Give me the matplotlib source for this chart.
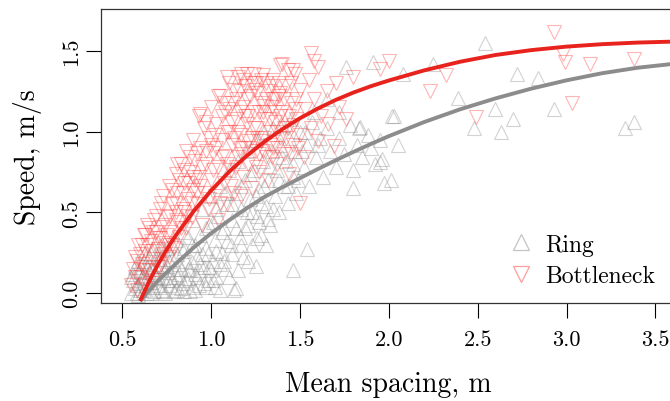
import matplotlib
matplotlib.use("Agg")
import matplotlib.pyplot as plt
from matplotlib.lines import Line2D

# Data
ring_spacing = [
    0.55, 0.56, 0.57, 0.58, 0.59, 0.60, 0.61, 0.62, 0.63, 0.64,
    0.65, 0.66, 0.67, 0.68, 0.69, 0.70, 0.71, 0.72, 0.73, 0.74,
    0.75, 0.76, 0.77, 0.78, 0.79, 0.80, 0.81, 0.82, 0.83, 0.84,
    0.85, 0.86, 0.87, 0.88, 0.89, 0.90, 0.91, 0.92, 0.93, 0.94,
    0.95, 0.96, 0.97, 0.98, 0.99, 1.00, 1.01, 1.02, 1.03, 1.04,
    1.05, 1.06, 1.07, 1.08, 1.09, 1.10, 1.11, 1.12, 1.13, 1.14,
    1.15, 1.16, 1.17, 1.18, 1.19, 1.20, 1.21, 1.22, 1.23, 1.24,
    1.25, 1.26, 1.27, 1.28, 1.29, 1.30, 1.31, 1.32, 1.33, 1.34,
    1.35, 1.36, 1.37, 1.38, 1.39, 1.40, 1.41, 1.42, 1.43, 1.44,
    1.45, 1.46, 1.47, 1.48, 1.50, 1.52, 1.54, 1.55, 1.57, 1.59,
    1.61, 1.63, 1.65, 1.67, 1.70, 1.72, 1.75, 1.78, 1.80, 1.82,
    1.85, 1.88,
    0.56, 0.58, 0.60, 0.62, 0.64, 0.66, 0.68, 0.70, 0.72, 0.74,
    0.76, 0.78, 0.80, 0.82, 0.84, 0.86, 0.88, 0.90, 0.92, 0.94,
    0.96, 0.98, 1.00, 1.02, 1.05, 0.59, 0.63, 0.67, 0.71, 0.75,
    0.55, 0.57, 0.58, 0.60, 0.61, 0.62, 0.64, 0.65, 0.66, 0.67,
    0.69, 0.70, 0.71, 0.73, 0.73, 0.75, 0.77, 0.78, 0.79, 0.81,
    0.81, 0.83, 0.85, 0.85, 0.87, 0.87, 0.89, 0.91, 0.91, 0.93,
    0.95, 0.97, 0.97, 0.99, 1.01, 1.01, 1.03, 1.05, 1.07, 1.09,
    1.10, 1.12, 1.15, 1.17, 1.19, 1.21, 1.23, 1.26, 1.28, 1.32,
    1.03, 1.06, 1.08, 1.12, 1.14, 1.17, 1.20, 1.22, 1.25, 1.27,
    1.30, 1.33, 1.35, 1.38, 1.40, 1.43, 1.46, 1.49, 1.51, 1.53,
    1.91, 2.03, 2.08, 2.25, 2.39, 2.48, 2.54, 2.60, 2.63, 2.70,
    2.72, 2.84, 2.93, 3.33, 3.38, 1.90, 1.95, 1.96, 1.92, 2.01,
    1.76, 2.02, 1.80, 1.54, 1.46, 1.31, 1.25, 1.14, 1.60, 1.84,
    1.97, 1.65, 1.72, 1.83, 1.58, 1.95, 2.05,
]
ring_speed = [
    0.00, 0.08, 0.03, 0.14, -0.01, 0.06, 0.18, 0.02, 0.11, 0.00,
    0.22, 0.07, 0.15, 0.01, 0.10, 0.25, 0.04, 0.17, 0.09, 0.00,
    0.28, 0.13, 0.05, 0.21, 0.01, 0.33, 0.10, 0.18, 0.03, 0.26,
    0.38, 0.08, 0.15, 0.01, 0.30, 0.45, 0.12, 0.22, 0.05, 0.36,
    0.52, 0.16, 0.28, 0.08, 0.42, 0.60, 0.20, 0.33, 0.10, 0.48,
    0.66, 0.25, 0.40, 0.15, 0.55, 0.76, 0.30, 0.45, 0.02, 0.62,
    0.82, 0.35, 0.52, 0.22, 0.70, 0.88, 0.42, 0.58, 0.30, 0.76,
    0.95, 0.48, 0.64, 0.36, 0.82, 1.00, 0.54, 0.70, 0.42, 0.88,
    1.02, 0.60, 0.76, 0.50, 0.92, 1.04, 0.66, 0.82, 0.56, 0.96,
    1.08, 0.72, 0.88, 0.62, 1.00, 0.78, 0.92, 0.66, 1.06, 0.84,
    0.96, 0.72, 1.02, 0.88, 0.78, 0.96, 0.86, 1.04, 0.76, 0.92,
    0.84, 0.98,
    0.12, 0.05, 0.13, 0.09, 0.16, 0.00, 0.12, 0.05, 0.02, 0.14,
    0.20, 0.08, 0.02, 0.12, 0.06, 0.20, 0.14, 0.04, 0.10, 0.18,
    0.06, 0.24, 0.14, 0.04, 0.18, 0.20, 0.25, 0.28, 0.30, 0.08,
    0.10, 0.16, 0.00, 0.02, 0.10, 0.20, 0.07, 0.13, 0.24, 0.04,
    0.18, 0.10, 0.21, 0.01, 0.27, 0.17, 0.10, 0.30, 0.15, 0.04,
    0.24, 0.15, 0.01, 0.28, 0.09, 0.35, 0.19, 0.02, 0.30, 0.14,
    0.24, 0.04, 0.40, 0.16, 0.08, 0.44, 0.26, 0.02, 0.20, 0.32,
    0.10, 0.24, 0.14, 0.30, 0.40, 0.20, 0.50, 0.34, 0.56, 0.46,
    0.52, 0.38, 0.62, 0.55, 0.40, 0.66, 0.50, 0.74, 0.60, 0.44,
    0.66, 0.78, 0.52, 0.70, 0.84, 0.66, 0.80, 0.70, 0.88, 1.00,
    1.43, 1.10, 1.36, 1.42, 1.21, 1.02, 1.55, 1.14, 1.00, 1.08,
    1.36, 1.33, 1.14, 1.02, 1.06, 0.90, 0.81, 0.83, 0.80, 0.70,
    1.40, 1.10, 0.65, 0.27, 0.14, 0.30, 0.17, 0.03, 0.92, 1.03,
    0.68, 1.20, 1.12, 1.02, 1.12, 0.95, 0.92,
]

bottleneck_spacing = [
    0.55, 0.56, 0.57, 0.58, 0.59, 0.60, 0.61, 0.62, 0.63, 0.63,
    0.64, 0.65, 0.66, 0.67, 0.68, 0.68, 0.69, 0.70, 0.71, 0.72,
    0.72, 0.73, 0.74, 0.75, 0.76, 0.76, 0.77, 0.78, 0.79, 0.80,
    0.80, 0.81, 0.82, 0.83, 0.84, 0.85, 0.86, 0.86, 0.87, 0.88,
    0.89, 0.90, 0.90, 0.91, 0.92, 0.93, 0.93, 0.94, 0.95, 0.96,
    0.96, 0.97, 0.98, 0.99, 1.00, 1.00, 1.01, 1.02, 1.03, 1.04,
    1.04, 1.05, 1.06, 1.07, 1.08, 1.08, 1.09, 1.10, 1.10, 1.11,
    1.12, 1.12, 1.13, 1.14, 1.15, 1.15, 1.16, 1.17, 1.18, 1.18,
    1.19, 1.20, 1.20, 1.21, 1.22, 1.23, 1.23, 1.24, 1.25, 1.25,
    1.26, 1.27, 1.28, 1.28, 1.29, 1.30, 1.31, 1.32, 1.32, 1.33,
    1.34, 1.35, 1.35, 1.36, 1.37, 1.38, 1.39, 1.40, 1.40, 1.41,
    1.42, 1.43, 1.44, 1.45, 1.46, 1.47, 1.48, 1.50, 1.50, 1.52,
    1.53, 1.55, 1.56, 1.58, 1.60, 1.62,
    1.02, 1.06, 1.09, 1.11, 1.13, 1.14, 1.16, 1.17, 1.19, 1.21,
    1.22, 1.24, 1.26, 1.27, 1.29, 1.30, 1.31, 1.33, 1.34, 1.36,
    1.37, 1.38, 1.39, 1.41, 1.42, 1.44, 1.45, 1.46, 1.48, 1.49,
    0.95, 0.97, 0.99, 1.01, 1.03, 1.05, 1.07, 1.09, 1.11, 1.13,
    1.15, 1.17, 1.19, 1.21, 1.23, 1.25, 1.27, 1.29, 1.31, 1.33,
    1.35, 1.37, 1.39, 1.41, 1.43, 1.45, 1.47, 1.10, 1.20, 1.30,
    1.06, 1.16, 1.26, 1.36, 1.00, 1.14, 1.24, 1.34, 1.18, 1.28,
    0.57, 0.60, 0.62, 0.64, 0.66, 0.67, 0.70, 0.71, 0.73, 0.75,
    0.77, 0.78, 0.80, 0.82, 0.84, 0.85, 0.87, 0.89, 0.91, 0.92,
    0.58, 0.61, 0.63, 0.65, 0.67, 0.69, 0.70, 0.72, 0.74, 0.76,
    0.78, 0.80, 0.82, 0.83, 0.85, 0.87, 0.88, 0.90, 0.94, 0.97,
    2.00, 1.95, 2.32, 2.23, 2.49, 2.93, 2.99, 2.98, 3.13, 3.03,
    3.38, 1.56, 1.58, 1.60, 1.39, 1.46, 1.80, 1.76, 1.69, 1.50,
    1.09, 1.17, 1.24, 1.04, 0.94, 0.81, 0.92, 0.63, 1.65, 1.70,
    1.72, 1.66,
]
bottleneck_speed = [
    0.05, 0.15, 0.22, 0.02, 0.30, 0.10, 0.18, 0.36, 0.05, 0.26,
    0.42, 0.14, 0.32, 0.21, 0.45, 0.08, 0.38, 0.27, 0.52, 0.18,
    0.41, 0.60, 0.31, 0.47, 0.22, 0.66, 0.38, 0.55, 0.28, 0.74,
    0.45, 0.62, 0.35, 0.80, 0.52, 0.68, 0.40, 0.88, 0.58, 0.75,
    0.47, 0.95, 0.64, 0.82, 0.55, 1.10, 0.72, 0.90, 0.42, 0.62,
    1.02, 0.80, 0.52, 0.96, 0.70, 1.15, 0.87, 0.60, 1.05, 0.78,
    0.45, 1.22, 0.95, 0.68, 1.12, 0.85, 0.55, 1.30, 1.00, 0.76,
    1.18, 0.92, 0.62, 1.08, 0.84, 1.34, 1.25, 0.98, 0.72, 1.15,
    0.90, 1.05, 1.36, 0.80, 1.22, 0.96, 0.65, 1.12, 0.88, 1.30,
    1.02, 0.75, 1.18, 0.94, 1.35, 1.08, 0.84, 1.25, 0.70, 1.00,
    1.15, 0.90, 1.32, 1.06, 0.80, 1.22, 0.96, 1.12, 1.42, 0.86,
    1.28, 1.02, 0.74, 1.18, 0.92, 1.36, 1.08, 0.98, 1.26, 0.84,
    1.14, 1.32, 1.02, 1.20, 0.94, 1.10,
    0.98, 1.10, 0.80, 1.06, 0.96, 0.78, 1.12, 0.86, 1.28, 1.10,
    0.90, 1.02, 1.24, 0.86, 1.12, 0.96, 1.20, 1.08, 0.84, 1.20,
    1.00, 1.30, 1.10, 1.20, 0.96, 1.10, 1.30, 1.04, 1.20, 0.90,
    0.78, 1.06, 0.58, 0.76, 0.90, 0.56, 1.18, 1.00, 0.66, 1.26,
    1.00, 0.60, 1.10, 0.94, 1.30, 0.78, 1.12, 0.88, 1.30, 0.92,
    1.20, 0.90, 1.24, 1.02, 1.38, 0.86, 1.14, 1.14, 1.20, 1.16,
    0.84, 0.90, 0.96, 1.12, 0.92, 1.20, 1.26, 1.28, 1.32, 1.32,
    0.10, 0.24, 0.14, 0.30, 0.06, 0.38, 0.16, 0.34, 0.24, 0.36,
    0.48, 0.30, 0.56, 0.44, 0.62, 0.50, 0.68, 0.56, 0.70, 0.62,
    0.20, 0.30, 0.16, 0.40, 0.26, 0.48, 0.34, 0.56, 0.42, 0.30,
    0.64, 0.50, 0.70, 0.40, 0.76, 0.48, 0.84, 0.72, 0.66, 0.88,
    1.44, 1.39, 1.35, 1.25, 1.09, 1.62, 1.43, 1.48, 1.42, 1.18,
    1.45, 1.49, 1.44, 1.40, 1.41, 1.38, 1.34, 1.08, 0.91, 0.56,
    1.34, 1.36, 1.36, 1.22, 1.11, 0.80, 0.87, 0.36, 1.25, 1.30,
    1.15, 1.05,
]

# fitted curves
fit_spacing = [0.60, 0.65, 0.70, 0.75, 0.80, 0.90, 1.00, 1.10, 1.20, 1.30,
               1.40, 1.50, 1.60, 1.70, 1.80, 1.90, 2.00, 2.20, 2.40, 2.60,
               2.80, 3.00, 3.20, 3.40, 3.60]
ring_fit = [-0.05, 0.015, 0.075, 0.128, 0.18, 0.28, 0.37, 0.45, 0.525, 0.595,
            0.655, 0.712, 0.768, 0.822, 0.874, 0.924, 0.972, 1.06, 1.138, 1.206,
            1.266, 1.318, 1.362, 1.396, 1.42]
bottleneck_fit = [-0.05, 0.07, 0.175, 0.27, 0.355, 0.505, 0.635, 0.75, 0.85, 0.938,
                  1.015, 1.083, 1.143, 1.196, 1.242, 1.282, 1.317, 1.38, 1.433, 1.475,
                  1.505, 1.527, 1.542, 1.552, 1.558]

x_ticks = [0.5, 1.0, 1.5, 2.0, 2.5, 3.0, 3.5]
y_ticks = [0.0, 0.5, 1.0, 1.5]

plt.rcParams['font.family'] = 'cmr10'
plt.rcParams['mathtext.fontset'] = 'cm'
plt.rcParams['axes.formatter.use_mathtext'] = True

ring_col = '#8a8a8a'
bn_col = '#ff3b3b'

fig = plt.figure(figsize=(6.7, 4.02), dpi=100)
ax = fig.add_axes([0.1503, 0.2438, 0.8597, 0.7313])

ax.plot(ring_spacing, ring_speed, linestyle='none', marker='^', ms=10,
        mfc='none', mec=ring_col, mew=0.8, alpha=0.38)
ax.plot(bottleneck_spacing, bottleneck_speed, linestyle='none', marker='v', ms=10,
        mfc='none', mec=bn_col, mew=0.8, alpha=0.38)
ax.plot(fit_spacing, ring_fit, color='#8c8c8c', lw=2.8, solid_capstyle='butt',
        solid_joinstyle='round')
ax.plot(fit_spacing, bottleneck_fit, color='#e8231d', lw=2.8, solid_capstyle='butt',
        solid_joinstyle='round')

ax.set_xlim(0.3784, 3.62)
ax.set_ylim(-0.062, 1.76)
ax.set_xticks(x_ticks)
ax.set_xticklabels(['%.1f' % t for t in x_ticks])
ax.set_yticks(y_ticks)
ax.set_yticklabels(['%.1f' % t for t in y_ticks], rotation=90, va='center')
ax.tick_params(axis='x', length=11, width=0.8, pad=8, labelsize=16)
ax.tick_params(axis='y', length=11, width=0.8, pad=3, labelsize=16)
for sp in ax.spines.values():
    sp.set_linewidth(0.9)
    sp.set_color('#333333')

ax.set_xlabel('Mean spacing, m', fontsize=20, labelpad=16)
ax.set_ylabel('Speed, m/s', fontsize=20, labelpad=14)

handles = [
    Line2D([], [], linestyle='none', marker='^', ms=11, mfc='none', mec=ring_col, mew=0.9, alpha=0.5),
    Line2D([], [], linestyle='none', marker='v', ms=11, mfc='none', mec=bn_col, mew=0.9, alpha=0.5),
]
fig.legend(handles, ['Ring', 'Bottleneck'], loc='center left', bbox_to_anchor=(0.728, 0.35),
           frameon=False, fontsize=17, handlelength=1.0, handletextpad=0.55, labelspacing=0.4)

fig.savefig('out.png', dpi=100)
